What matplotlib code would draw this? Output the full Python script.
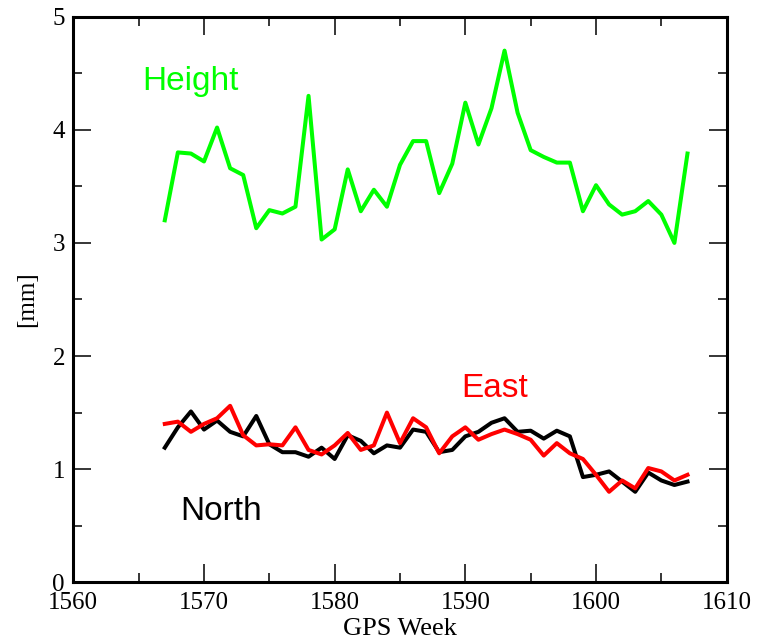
import matplotlib
matplotlib.use('Agg')
from matplotlib import pyplot as plt
from matplotlib.ticker import MultipleLocator

weeks = list(range(1567, 1608))

height = [3.20, 3.80, 3.79, 3.72, 4.02, 3.66, 3.60, 3.13, 3.29, 3.26,
          3.32, 4.30, 3.03, 3.12, 3.65, 3.28, 3.47, 3.32, 3.69, 3.90,
          3.90, 3.44, 3.70, 4.24, 3.87, 4.19, 4.70, 4.15, 3.82, 3.76,
          3.71, 3.71, 3.28, 3.51, 3.34, 3.25, 3.28, 3.37, 3.25, 3.00,
          3.79]

north = [1.19, 1.37, 1.51, 1.35, 1.43, 1.33, 1.29, 1.47, 1.22, 1.15,
         1.15, 1.11, 1.19, 1.09, 1.30, 1.25, 1.14, 1.21, 1.19, 1.35,
         1.33, 1.15, 1.17, 1.29, 1.33, 1.41, 1.45, 1.33, 1.34, 1.27,
         1.34, 1.29, 0.93, 0.95, 0.98, 0.89, 0.80, 0.97, 0.90, 0.86,
         0.89]

east = [1.40, 1.42, 1.33, 1.40, 1.45, 1.56, 1.30, 1.21, 1.22, 1.21,
        1.37, 1.17, 1.13, 1.21, 1.32, 1.17, 1.21, 1.50, 1.23, 1.45,
        1.37, 1.14, 1.29, 1.37, 1.26, 1.31, 1.35, 1.31, 1.26, 1.12,
        1.23, 1.14, 1.09, 0.95, 0.80, 0.90, 0.83, 1.01, 0.98, 0.90,
        0.95]

serif = 'Liberation Serif'
sans = 'Liberation Sans'

fig = plt.figure(figsize=(7.63, 6.41), dpi=100)
ax = fig.add_axes([0.0961, 0.0916, 0.8563, 0.8824])

ax.plot(weeks, height, color='#00ff00', lw=2.9)
ax.plot(weeks, north, color='black', lw=2.9)
ax.plot(weeks, east, color='#ff0000', lw=2.9)

# series labels placed inside the plot
ax.text(1565.3, 4.35, 'Height', color='#00ff00', fontsize=24, family=sans)
ax.text(1589.7, 1.64, 'East', color='#ff0000', fontsize=24, family=sans)
ax.text(1568.2, 0.55, 'North', color='black', fontsize=24, family=sans)

ax.set_xlim(1560, 1610)
ax.set_ylim(0, 5)
ax.xaxis.set_major_locator(MultipleLocator(10))
ax.xaxis.set_minor_locator(MultipleLocator(5))
ax.yaxis.set_major_locator(MultipleLocator(1))
ax.yaxis.set_minor_locator(MultipleLocator(0.5))
ax.tick_params(which='both', direction='in', top=True, right=True,
               width=1.1, labelsize=18)
ax.tick_params(which='major', length=13)
ax.tick_params(which='minor', length=6.5)
ax.tick_params(axis='x', which='major', pad=7)
ax.tick_params(axis='y', which='major', pad=6)
for lbl in ax.get_xticklabels() + ax.get_yticklabels():
    lbl.set_family(serif)
for s in ax.spines.values():
    s.set_linewidth(2.2)

ax.set_xlabel('GPS Week', fontsize=19, family=serif, labelpad=3)
ax.set_ylabel('[mm]', fontsize=18, family=serif, labelpad=10)

fig.savefig('out.png', dpi=100)
